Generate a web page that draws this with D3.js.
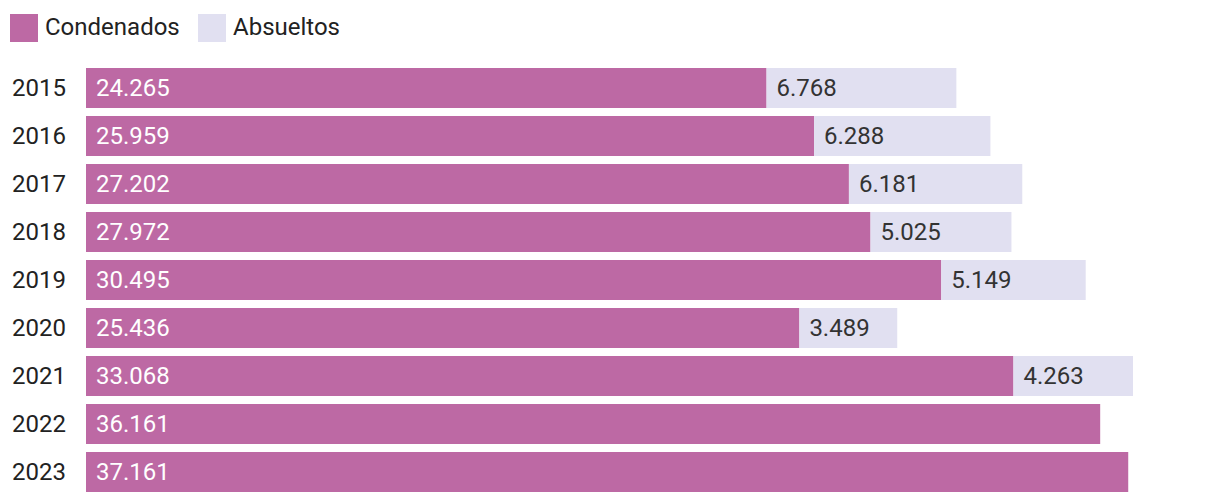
<!DOCTYPE html>
<html><head><meta charset="utf-8">
<script src="https://cdn.jsdelivr.net/npm/d3@7"></script>
<style>body{margin:0;background:#fff;}svg{display:block;font-family:Roboto,"Noto Sans",sans-serif;}</style>
</head><body><svg id="c" width="1220" height="504"></svg>
<script>
const years = ["2015","2016","2017","2018","2019","2020","2021","2022","2023"];
const condenados = [24265,25959,27202,27972,30495,25436,33068,36161,37161];
const absueltos = [6768,6288,6181,5025,5149,3489,4263,0,0];
const seriesNames = ["Condenados","Absueltos"];
const colors = ["#bd69a4","#e1e0f1"];

const svg = d3.select("#c");
const fmt = v => d3.format(",")(v).replace(/,/g, ".");
const totals = years.map((y,i)=>condenados[i]+absueltos[i]);
const x = d3.scaleLinear().domain([0, d3.max(totals)]).range([86, 1133]);
const y = d3.scaleBand().domain(years).range([64, 496]).paddingInner(8/48).paddingOuter(4/48);

// legend
const leg = svg.append("g");
const legX = [10, 198];
seriesNames.forEach((n,i)=>{
  leg.append("rect").attr("x",legX[i]).attr("y",14).attr("width",28).attr("height",28).attr("fill",colors[i]);
  leg.append("text").attr("x",legX[i]+35).attr("y",27).attr("dy","0.35em").attr("font-size",24).attr("fill","#222").text(n);
});

// year labels
svg.append("g").selectAll("text").data(years).join("text")
  .attr("x",12).attr("y",d=>y(d)+y.bandwidth()/2).attr("dy","0.35em")
  .attr("font-size",24).attr("fill","#222").text(d=>d);

// condenados bars
svg.append("g").selectAll("rect").data(years).join("rect")
  .attr("x",x(0)).attr("y",d=>y(d)).attr("height",y.bandwidth())
  .attr("width",(d,i)=>x(condenados[i])-x(0)).attr("fill",colors[0]);
// absueltos bars
svg.append("g").selectAll("rect").data(years).join("rect")
  .attr("x",(d,i)=>x(condenados[i])).attr("y",d=>y(d)).attr("height",y.bandwidth())
  .attr("width",(d,i)=>x(condenados[i]+absueltos[i])-x(condenados[i])).attr("fill",colors[1]);

// labels
svg.append("g").selectAll("text").data(years).join("text")
  .attr("x",x(0)+10).attr("y",d=>y(d)+y.bandwidth()/2).attr("dy","0.35em")
  .attr("font-size",24).attr("fill","#fff").text((d,i)=>fmt(condenados[i]));
svg.append("g").selectAll("text").data(years.filter((d,i)=>absueltos[i]>0)).join("text")
  .attr("x",d=>x(condenados[years.indexOf(d)])+10).attr("y",d=>y(d)+y.bandwidth()/2).attr("dy","0.35em")
  .attr("font-size",24).attr("fill","#333").text(d=>fmt(absueltos[years.indexOf(d)]));
</script></body></html>
